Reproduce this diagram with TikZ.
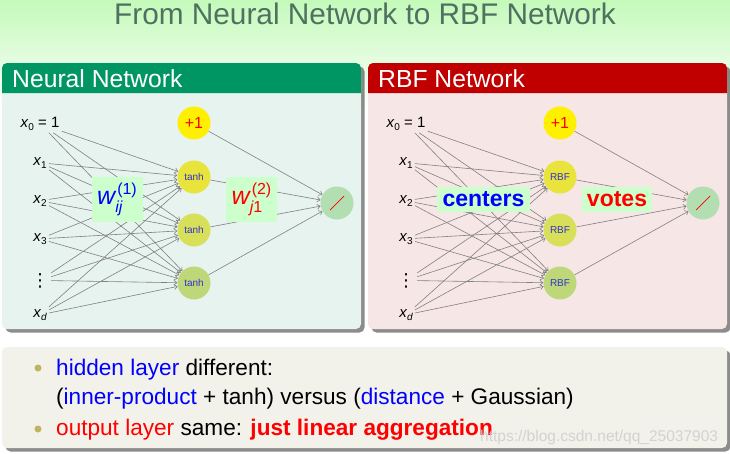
\documentclass[tikz,border=0pt]{standalone}
\usepackage{fontspec}
\setmainfont{Liberation Sans}
\newfontfamily\djv{DejaVu Sans}
\usetikzlibrary{arrows.meta,shadows}
\definecolor{bgtop}{RGB}{196,250,186}
\definecolor{titlecol}{RGB}{80,112,96}
\definecolor{nnhead}{RGB}{0,150,100}
\definecolor{nnbody}{RGB}{230,243,238}
\definecolor{rbfhead}{RGB}{192,0,0}
\definecolor{rbfbody}{RGB}{247,230,230}
\definecolor{botbody}{RGB}{242,241,234}
\definecolor{bulletcol}{RGB}{190,180,100}
\definecolor{wboxc}{RGB}{204,255,204}
\definecolor{hA}{RGB}{232,228,60}
\definecolor{hB}{RGB}{216,224,90}
\definecolor{hC}{RGB}{190,215,120}
\definecolor{outc}{RGB}{178,222,178}
\definecolor{plusc}{RGB}{255,240,0}
\definecolor{edgec}{RGB}{128,128,128}
\definecolor{nodetext}{RGB}{50,50,200}
\definecolor{wmark}{RGB}{205,205,205}
\newcommand\xin[1]{\textit{x}\raisebox{-3.5pt}{\fontsize{10}{10}\selectfont #1}}
\newcommand\mydots{{\djv\fontsize{18}{18}\selectfont ⋮}}
\newcommand\wlab[2]{{\fontsize{25}{25}\selectfont\itshape w}\rlap{\raisebox{-8pt}{\fontsize{16}{16}\selectfont\itshape #1}}\hspace{2pt}\raisebox{10pt}{\fontsize{16}{16}\selectfont (#2)}}
\begin{document}
\begin{tikzpicture}[x=1pt,y=-1pt,
  inlab/.style={anchor=base, inner sep=2pt, font=\fontsize{15}{15}\selectfont},
  neuron/.style={circle, minimum size=33pt, inner sep=0pt, font=\fontsize{10}{10}\selectfont, text=nodetext},
  conn/.style={draw=edgec, line width=0.6pt, -{Straight Barb[length=3pt,width=5pt]}},
  wbox/.style={fill=wboxc, inner sep=0pt},
  panelshadow/.style={drop shadow={shadow xshift=3.5pt, shadow yshift=-3.5pt, fill=black, opacity=0.45}},
  hdr/.style={anchor=base west, inner sep=0pt, text=white, font=\fontsize{24.7}{24.7}\selectfont},
  body/.style={anchor=base west, inner sep=0pt, font=\fontsize{22.6}{22.6}\selectfont},
  bulletdot/.style={circle, fill=bulletcol, minimum size=7pt, inner sep=0pt}
]
\useasboundingbox (0,0) rectangle (730,453);
% background
\fill[white] (0,0) rectangle (730,453);
\shade[top color=bgtop, bottom color=white] (0,0) rectangle (730,110);
% title
\node[anchor=base, inner sep=0pt, text=titlecol, font=\fontsize{29.8}{29.8}\selectfont] (title) at (365,24) {From Neural Network to RBF Network};
% left panel
\path[fill=nnbody, rounded corners=5pt, panelshadow] (2,63) rectangle (361,329);
\fill[nnhead] (2,93) {[rounded corners=5pt] -- (2,63) -- (361,63)} -- (361,93) -- cycle;
\node[hdr] (nnt) at (12,87) {Neural Network};
% right panel
\path[fill=rbfbody, rounded corners=5pt, panelshadow] (368,63) rectangle (727,329);
\fill[rbfhead] (368,93) {[rounded corners=5pt] -- (368,63) -- (727,63)} -- (727,93) -- cycle;
\node[hdr] (rbft) at (378,87) {RBF Network};
% bottom box
\path[fill=botbody, rounded corners=5pt, panelshadow] (2,347) rectangle (727,448);
% networks
\foreach \p/\dx/\lab in {a/0/tanh, b/366/RBF}{
  \begin{scope}[xshift=\dx pt]
    \foreach \i/\yy/\t in {0/127/{\xin{0} = 1}, 1/165/{\xin{1}}, 2/203/{\xin{2}}, 3/241/{\xin{3}}, 4/286/{\mydots}, 5/317/{\xin{\itshape d}}}{
      \node[inlab] (\p\i) at (40,\yy) {\t};
    }
    \node[neuron, fill=plusc, text=red, font=\fontsize{16}{16}\selectfont] (\p b) at (194,123) {+1};
    \foreach \j/\c/\yy in {1/hA/177, 2/hB/230, 3/hC/283}{
      \node[neuron, fill=\c] (\p h\j) at (194,\yy) {\lab};
    }
    \node[neuron, fill=outc, path picture={\draw[red, line width=0.7pt] ([shift={(-7pt,-7pt)}]path picture bounding box.center) -- ([shift={(7pt,7pt)}]path picture bounding box.center);}] (\p o) at (337,203) {};
    \foreach \i in {0,...,5}{
      \foreach \j in {1,2,3}{
        \draw[conn] (\p\i) -- (\p h\j);
      }
    }
    \draw[conn] (\p b) -- (\p o);
    \foreach \j in {1,2,3}{ \draw[conn] (\p h\j) -- (\p o); }
  \end{scope}
}
% weight labels
\node[wbox, minimum width=51pt, minimum height=45pt, text=blue] (w1) at (117,199.5) {\wlab{ij}{1}};
\node[wbox, minimum width=51pt, minimum height=45pt, text=red] (w2) at (251.5,199.5) {\wlab{j\upshape 1}{2}};
\node[wbox, minimum width=93pt, minimum height=25pt, text=blue, font=\fontsize{23}{23}\selectfont\bfseries] (cen) at (483.5,199.5) {centers};
\node[wbox, minimum width=70pt, minimum height=25pt, text=red, font=\fontsize{23}{23}\selectfont\bfseries] (vot) at (617,199.5) {votes};
% bottom text
\node[bulletdot] (d1) at (38,368) {};
\node[bulletdot] (d2) at (38,429) {};
\node[body] (l1) at (56,375) {\textcolor{blue}{hidden layer} different:};
\node[body] (l2) at (56,404) {(\textcolor{blue}{inner-product} + tanh) versus (\textcolor{blue}{distance} + Gaussian)};
\node[body] (l3) at (56,435) {\textcolor{red}{output layer} same: \textcolor{red}{\bfseries just linear aggregation}};
\node[anchor=base west, inner sep=0pt, text=wmark, opacity=0.85, font=\fontsize{15.5}{15.5}\selectfont] (wm) at (480,441) {https://blog.csdn.net/qq\_25037903};
\end{tikzpicture}
\end{document}
